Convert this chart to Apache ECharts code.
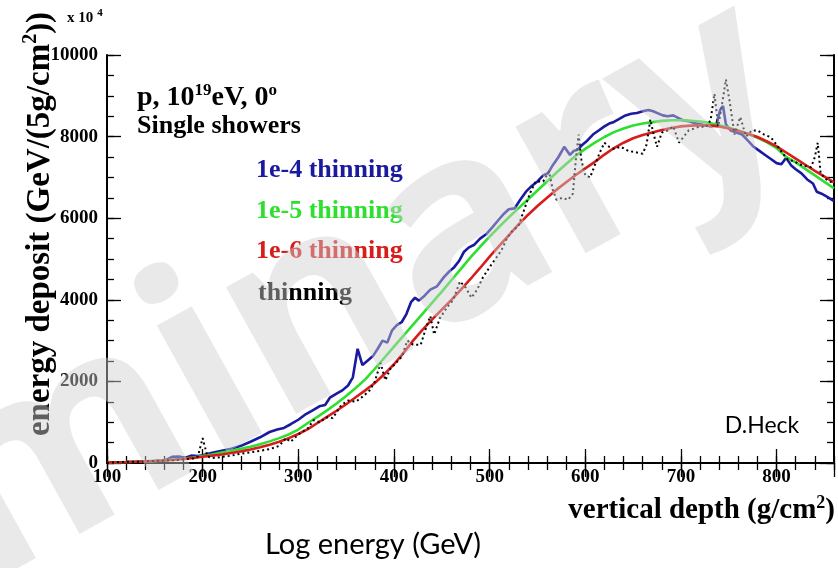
<!DOCTYPE html>
<html>
<head>
<meta charset="utf-8">
<script src="https://cdn.jsdelivr.net/npm/echarts/dist/echarts.min.js"></script>
<style>
  html, body { margin: 0; padding: 0; background: #fff; }
  #chart { width: 838px; height: 568px; }
</style>
</head>
<body>
<div id="chart"></div>
<script>
// Longitudinal energy deposit profiles, p at 10^19 eV, vertical incidence.
// Smooth profiles sampled every 10 g/cm^2.
const depthGrid = [
  100,110,120,130,140,150,160,170,180,190,
  200,210,220,230,240,250,260,270,280,290,
  300,310,320,330,340,350,360,370,380,390,
  400,410,420,430,440,450,460,470,480,490,
  500,510,520,530,540,550,560,570,580,590,
  600,610,620,630,640,650,660,670,680,690,
  700,710,720,730,740,750,760,770,780,790,
  800,810,820,830,840,850,860
];

// 1e-5 thinning
const deposit1e5 = [
  15,20,25,32,40,52,66,84,106,135,
  170,210,255,300,350,400,460,530,610,700,
  820,980,1130,1290,1460,1640,1840,2050,2310,2580,
  2850,3120,3390,3660,3930,4200,4480,4760,5040,5300,
  5550,5790,6020,6240,6460,6680,6900,7120,7330,7530,
  7700,7850,7990,8110,8200,8270,8320,8355,8385,8400,
  8400,8390,8370,8330,8280,8220,8150,8070,7970,7860,
  7720,7500,7370,7210,7050,6890,6730
];

// 1e-6 thinning
const deposit1e6 = [
  15,20,25,32,40,50,62,78,98,122,
  155,180,210,245,285,330,385,450,520,610,
  710,830,980,1130,1280,1440,1610,1780,1960,2180,
  2420,2700,3000,3270,3520,3760,4000,4250,4510,4780,
  5060,5320,5580,5840,6080,6300,6500,6700,6880,7060,
  7220,7380,7560,7720,7850,7960,8040,8100,8160,8210,
  8250,8270,8280,8270,8250,8200,8140,8070,7990,7880,
  7760,7610,7460,7310,7160,7020,6880
];

// 1e-4 thinning (irregular sampling to keep the fluctuations)
const depth1e4 = [
  100,120,140,160,168,175,182,188,195,200,210,220,230,240,250,260,270,278,285,292,
  300,308,315,322,328,333,340,346,352,357,362,367,372,378,383,388,393,398,403,408,
  413,418,422,426,432,438,445,452,458,463,468,473,478,484,490,497,503,509,515,520,
  526,532,538,543,550,556,561,566,572,578,584,588,592,597,602,608,614,620,625,630,
  636,642,648,654,660,666,671,676,681,686,692,697,702,708,714,720,726,732,737,741,
  744,747,752,758,764,770,776,782,788,794,800,805,810,815,820,826,832,838,842,847,
  853,860
];
const deposit1e4 = [
  20,25,35,60,150,160,130,180,170,190,250,300,350,420,520,630,760,820,860,950,
  1060,1200,1290,1390,1420,1600,1700,1780,1900,2100,2800,2400,2500,2620,2800,3000,2950,3250,3380,3450,
  3650,3950,4050,3980,4100,4250,4330,4550,4700,4800,4950,5170,5280,5350,5500,5620,5780,5950,6110,6220,
  6240,6450,6650,6770,6900,7050,7100,7300,7500,7750,7550,7650,7680,7800,7900,8050,8150,8250,8320,8360,
  8440,8520,8560,8580,8620,8650,8620,8570,8520,8500,8520,8460,8400,8380,8330,8300,8270,8250,8300,8650,
  8750,8300,8150,8100,8050,7900,7750,7650,7550,7450,7350,7320,7480,7300,7200,7100,6950,6850,6650,6600,
  6520,6420
];

// no thinning
const depthFull = [
  100,110,120,130,140,150,160,170,180,190,195,200,205,210,220,230,240,250,260,270,
  280,287,292,300,310,316,322,330,336,345,352,360,368,375,380,386,391,396,402,408,
  414,420,428,434,438,442,448,455,462,469,475,481,487,493,500,506,512,518,524,530,
  536,542,548,556,562,566,570,576,582,587,590,593,596,600,605,610,615,620,625,630,
  637,645,652,660,664,668,671,675,680,686,692,698,703,708,714,720,726,731,735,739,
  743,747,751,756,762,768,774,780,787,794,800,806,812,818,824,830,836,840,843,846,
  852,860
];
const depositFull = [
  0,20,30,30,40,50,60,70,90,110,160,610,160,120,150,180,230,260,300,340,
  420,610,520,700,850,1050,1000,1120,1100,1420,1530,1500,1640,1790,2000,2450,2030,2300,2450,2600,
  3000,2900,2900,3350,3600,3150,3550,3800,4000,4450,4300,4050,4250,4550,4800,5000,5200,5500,5700,5800,
  6200,6600,6900,6900,7150,6700,6450,6500,6450,6600,7400,8050,7400,7050,7000,7300,7600,7850,7750,7700,
  7750,7650,7620,7580,7800,8420,8100,7750,8100,8150,8250,7850,8000,8150,8200,8250,8230,8400,9050,8250,
  8800,9400,8850,8050,8480,8000,8150,8150,8050,7980,7800,7600,7430,7400,7320,7280,7250,7500,7850,7100,
  6950,6850
];

const serif = '"Liberation Serif", "DejaVu Serif", serif';
const sans = 'Lato, "Open Sans", "DejaVu Sans", sans-serif';

const pairs = (xs, ys) => xs.map((x, i) => [x, ys[i]]);

const frameLine = { show: true, lineStyle: { color: '#000', width: 2 } };
const noLine = { show: false };
const majorTick = { show: true, inside: true, length: 14, lineStyle: { color: '#000', width: 1.3 } };
const minorTick = { show: true, inside: true, length: 7, lineStyle: { color: '#000', width: 1.3 } };
const tickFont = { fontFamily: serif, fontWeight: 'bold', fontSize: 19, color: '#000', formatter: v => String(v) };

function xAx(position, interval, tick, line, labels) {
  return {
    type: 'value', position, min: 100, max: 860, interval,
    axisLine: line, axisTick: tick,
    axisLabel: labels ? Object.assign({ show: true, margin: 5, showMaxLabel: false }, tickFont) : { show: false },
    splitLine: { show: false }
  };
}
function yAx(position, interval, tick, line, labels) {
  return {
    type: 'value', position, min: 0, max: 10000, interval,
    axisLine: line, axisTick: tick,
    axisLabel: labels ? Object.assign({ show: true, margin: 9 }, tickFont) : { show: false },
    splitLine: { show: false }
  };
}

function lineSeries(name, data, color, width, dash) {
  return {
    name, type: 'line', data, xAxisIndex: 0, yAxisIndex: 0,
    showSymbol: false, symbol: 'none', smooth: false,
    lineStyle: { color, width, type: dash || 'solid' },
    emphasis: { disabled: true }, silent: true
  };
}

const chart = echarts.init(document.getElementById('chart'), null, { renderer: 'canvas' });

chart.setOption({
  animation: false,
  backgroundColor: '#fff',
  grid: { left: 107, top: 55, width: 727, height: 408, containLabel: false },
  xAxis: [
    xAx('bottom', 100, majorTick, frameLine, true),
    xAx('bottom', 20, minorTick, noLine, false),
    xAx('top', 100, majorTick, frameLine, false),
    xAx('top', 20, minorTick, noLine, false)
  ],
  yAxis: [
    yAx('left', 2000, majorTick, frameLine, true),
    yAx('left', 500, minorTick, noLine, false),
    yAx('right', 2000, majorTick, frameLine, false),
    yAx('right', 500, minorTick, noLine, false)
  ],
  series: [
    lineSeries('1e-4 thinning', pairs(depth1e4, deposit1e4), '#1a1aa0', 2.6),
    lineSeries('1e-5 thinning', pairs(depthGrid, deposit1e5), '#2ee02e', 2.6),
    lineSeries('1e-6 thinning', pairs(depthGrid, deposit1e6), '#d81c1c', 2.6),
    lineSeries('thinning', pairs(depthFull, depositFull), '#000', 2, [2, 3])
  ],
  graphic: [
    // exponent of the y scale
    { type: 'text', x: 67, y: 18, style: {
        text: '{a|x 10}{s|4}', align: 'left', verticalAlign: 'middle',
        rich: { a: { font: 'bold 15px ' + serif, fill: '#000', lineHeight: 20 },
                s: { font: 'bold 11px ' + serif, fill: '#000', verticalAlign: 'top', padding: [0, 0, 0, 4] } } } },
    // y axis title
    { type: 'text', x: 40, y: 224, rotation: Math.PI / 2, style: {
        text: '{a|energy deposit (GeV/(5g/cm}{s|2}{a|))}', align: 'center', verticalAlign: 'middle',
        rich: { a: { font: 'bold 33px ' + serif, fill: '#000', lineHeight: 38 },
                s: { font: 'bold 20px ' + serif, fill: '#000', verticalAlign: 'top' } } } },
    // x axis title
    { type: 'text', x: 835, y: 511, style: {
        text: '{a|vertical depth (g/cm}{s|2}{a|)}', align: 'right', verticalAlign: 'middle',
        rich: { a: { font: 'bold 29px ' + serif, fill: '#000', lineHeight: 34 },
                s: { font: 'bold 18px ' + serif, fill: '#000', verticalAlign: 'top' } } } },
    { type: 'text', x: 373, y: 545, style: {
        text: 'Log energy (GeV)', align: 'center', verticalAlign: 'middle',
        font: '29px ' + sans, fill: '#000' } },
    // shower description
    { type: 'text', x: 137, y: 98, style: {
        text: '{a|p, 10}{s|19}{a|eV, 0}{s|o}', align: 'left', verticalAlign: 'middle',
        rich: { a: { font: 'bold 28px ' + serif, fill: '#000', lineHeight: 32 },
                s: { font: 'bold 17px ' + serif, fill: '#000', verticalAlign: 'top' } } } },
    { type: 'text', x: 137, y: 126, style: {
        text: 'Single showers', align: 'left', verticalAlign: 'middle',
        font: 'bold 26px ' + serif, fill: '#000' } },
    // series labels
    { type: 'text', x: 256, y: 170, style: { text: '1e-4 thinning', align: 'left', verticalAlign: 'middle',
        font: 'bold 26px ' + serif, fill: '#1a1aa0' } },
    { type: 'text', x: 256, y: 211, style: { text: '1e-5 thinning', align: 'left', verticalAlign: 'middle',
        font: 'bold 26px ' + serif, fill: '#2ee02e' } },
    { type: 'text', x: 256, y: 251, style: { text: '1e-6 thinning', align: 'left', verticalAlign: 'middle',
        font: 'bold 26px ' + serif, fill: '#d81c1c' } },
    { type: 'text', x: 258, y: 293, style: { text: 'thinning', align: 'left', verticalAlign: 'middle',
        font: 'bold 26px ' + serif, fill: '#000' } },
    // author
    { type: 'text', x: 762, y: 426, style: { text: 'D.Heck', align: 'center', verticalAlign: 'middle',
        font: '23px ' + sans, fill: '#000' } },
    // draft stamp across the plot
    { type: 'text', x: 768, y: 66, rotation: 29 * Math.PI / 180, z: 100, silent: true, style: {
        text: 'Preliminary', align: 'right', verticalAlign: 'middle',
        font: 'bold 265px "Noto Sans", "DejaVu Sans", sans-serif', fill: 'rgba(207,207,207,0.46)' } }
  ]
});
</script>
</body>
</html>
